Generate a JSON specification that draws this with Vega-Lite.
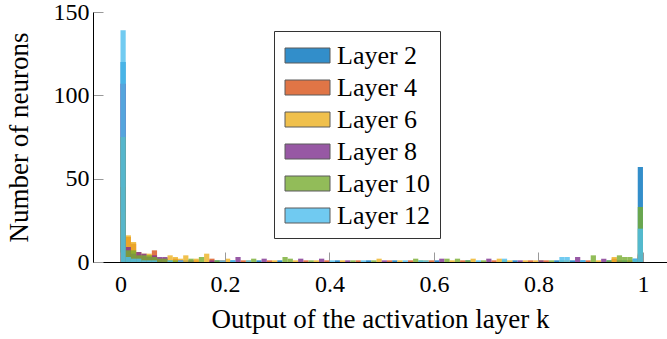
{
  "$schema": "https://vega.github.io/schema/vega-lite/v6.json",
  "width": 574,
  "height": 250,
  "autosize": {"type": "none"},
  "padding": {"left": 93, "top": 12, "right": 0, "bottom": 77},
  "background": "white",
  "config": {"view": {"stroke": null}, "font": "Liberation Serif"},
  "datasets": {
    "hist": [
      {"from":0.00,"to":0.01,"layer":"Layer 2","count":120},
      {"from":0.01,"to":0.02,"layer":"Layer 2","count":2},
      {"from":0.02,"to":0.03,"layer":"Layer 2","count":2},
      {"from":0.03,"to":0.04,"layer":"Layer 2","count":1},
      {"from":0.04,"to":0.05,"layer":"Layer 2","count":1},
      {"from":0.05,"to":0.06,"layer":"Layer 2","count":1},
      {"from":0.07,"to":0.08,"layer":"Layer 2","count":1},
      {"from":0.12,"to":0.13,"layer":"Layer 2","count":1},
      {"from":0.18,"to":0.19,"layer":"Layer 2","count":1},
      {"from":0.21,"to":0.22,"layer":"Layer 2","count":1},
      {"from":0.26,"to":0.27,"layer":"Layer 2","count":1},
      {"from":0.30,"to":0.31,"layer":"Layer 2","count":1},
      {"from":0.41,"to":0.42,"layer":"Layer 2","count":1},
      {"from":0.47,"to":0.48,"layer":"Layer 2","count":1},
      {"from":0.52,"to":0.53,"layer":"Layer 2","count":1},
      {"from":0.60,"to":0.61,"layer":"Layer 2","count":1},
      {"from":0.66,"to":0.67,"layer":"Layer 2","count":1},
      {"from":0.75,"to":0.76,"layer":"Layer 2","count":1},
      {"from":0.83,"to":0.84,"layer":"Layer 2","count":1},
      {"from":0.86,"to":0.87,"layer":"Layer 2","count":1},
      {"from":0.88,"to":0.89,"layer":"Layer 2","count":1},
      {"from":0.93,"to":0.94,"layer":"Layer 2","count":1},
      {"from":0.96,"to":0.97,"layer":"Layer 2","count":1},
      {"from":0.98,"to":0.99,"layer":"Layer 2","count":2},
      {"from":0.99,"to":1.00,"layer":"Layer 2","count":57},

      {"from":0.00,"to":0.01,"layer":"Layer 4","count":45},
      {"from":0.01,"to":0.02,"layer":"Layer 4","count":15},
      {"from":0.02,"to":0.03,"layer":"Layer 4","count":11},
      {"from":0.03,"to":0.04,"layer":"Layer 4","count":4},
      {"from":0.04,"to":0.05,"layer":"Layer 4","count":3},
      {"from":0.05,"to":0.06,"layer":"Layer 4","count":4},
      {"from":0.06,"to":0.07,"layer":"Layer 4","count":7},
      {"from":0.07,"to":0.08,"layer":"Layer 4","count":2},
      {"from":0.08,"to":0.09,"layer":"Layer 4","count":2},
      {"from":0.10,"to":0.11,"layer":"Layer 4","count":2},
      {"from":0.14,"to":0.15,"layer":"Layer 4","count":1},
      {"from":0.17,"to":0.18,"layer":"Layer 4","count":2},
      {"from":0.19,"to":0.20,"layer":"Layer 4","count":1},
      {"from":0.23,"to":0.24,"layer":"Layer 4","count":1},
      {"from":0.28,"to":0.29,"layer":"Layer 4","count":1},
      {"from":0.35,"to":0.36,"layer":"Layer 4","count":1},
      {"from":0.39,"to":0.40,"layer":"Layer 4","count":1},
      {"from":0.45,"to":0.46,"layer":"Layer 4","count":1},
      {"from":0.51,"to":0.52,"layer":"Layer 4","count":1},
      {"from":0.55,"to":0.56,"layer":"Layer 4","count":1},
      {"from":0.59,"to":0.60,"layer":"Layer 4","count":1},
      {"from":0.65,"to":0.66,"layer":"Layer 4","count":1},
      {"from":0.71,"to":0.72,"layer":"Layer 4","count":1},
      {"from":0.78,"to":0.79,"layer":"Layer 4","count":1},
      {"from":0.81,"to":0.82,"layer":"Layer 4","count":1},
      {"from":0.89,"to":0.90,"layer":"Layer 4","count":1},
      {"from":0.94,"to":0.95,"layer":"Layer 4","count":2},
      {"from":0.97,"to":0.98,"layer":"Layer 4","count":1},
      {"from":0.99,"to":1.00,"layer":"Layer 4","count":5},

      {"from":0.00,"to":0.01,"layer":"Layer 6","count":30},
      {"from":0.01,"to":0.02,"layer":"Layer 6","count":16},
      {"from":0.02,"to":0.03,"layer":"Layer 6","count":12},
      {"from":0.03,"to":0.04,"layer":"Layer 6","count":6},
      {"from":0.04,"to":0.05,"layer":"Layer 6","count":5},
      {"from":0.05,"to":0.06,"layer":"Layer 6","count":5},
      {"from":0.06,"to":0.07,"layer":"Layer 6","count":3},
      {"from":0.08,"to":0.09,"layer":"Layer 6","count":2},
      {"from":0.09,"to":0.10,"layer":"Layer 6","count":4},
      {"from":0.10,"to":0.11,"layer":"Layer 6","count":3},
      {"from":0.11,"to":0.12,"layer":"Layer 6","count":2},
      {"from":0.12,"to":0.13,"layer":"Layer 6","count":4},
      {"from":0.14,"to":0.15,"layer":"Layer 6","count":2},
      {"from":0.16,"to":0.17,"layer":"Layer 6","count":5},
      {"from":0.20,"to":0.21,"layer":"Layer 6","count":2},
      {"from":0.24,"to":0.25,"layer":"Layer 6","count":1},
      {"from":0.29,"to":0.30,"layer":"Layer 6","count":1},
      {"from":0.33,"to":0.34,"layer":"Layer 6","count":1},
      {"from":0.37,"to":0.38,"layer":"Layer 6","count":1},
      {"from":0.42,"to":0.43,"layer":"Layer 6","count":1},
      {"from":0.49,"to":0.50,"layer":"Layer 6","count":2},
      {"from":0.53,"to":0.54,"layer":"Layer 6","count":1},
      {"from":0.58,"to":0.59,"layer":"Layer 6","count":1},
      {"from":0.63,"to":0.64,"layer":"Layer 6","count":1},
      {"from":0.67,"to":0.68,"layer":"Layer 6","count":2},
      {"from":0.72,"to":0.73,"layer":"Layer 6","count":2},
      {"from":0.74,"to":0.75,"layer":"Layer 6","count":1},
      {"from":0.77,"to":0.78,"layer":"Layer 6","count":1},
      {"from":0.79,"to":0.80,"layer":"Layer 6","count":1},
      {"from":0.80,"to":0.81,"layer":"Layer 6","count":1},
      {"from":0.85,"to":0.86,"layer":"Layer 6","count":1},
      {"from":0.91,"to":0.92,"layer":"Layer 6","count":1},
      {"from":0.94,"to":0.95,"layer":"Layer 6","count":3},
      {"from":0.99,"to":1.00,"layer":"Layer 6","count":3},

      {"from":0.00,"to":0.01,"layer":"Layer 8","count":107},
      {"from":0.01,"to":0.02,"layer":"Layer 8","count":9},
      {"from":0.02,"to":0.03,"layer":"Layer 8","count":5},
      {"from":0.03,"to":0.04,"layer":"Layer 8","count":6},
      {"from":0.04,"to":0.05,"layer":"Layer 8","count":5},
      {"from":0.05,"to":0.06,"layer":"Layer 8","count":3},
      {"from":0.06,"to":0.07,"layer":"Layer 8","count":4},
      {"from":0.07,"to":0.08,"layer":"Layer 8","count":3},
      {"from":0.08,"to":0.09,"layer":"Layer 8","count":3},
      {"from":0.11,"to":0.12,"layer":"Layer 8","count":1},
      {"from":0.13,"to":0.14,"layer":"Layer 8","count":1},
      {"from":0.17,"to":0.18,"layer":"Layer 8","count":1},
      {"from":0.22,"to":0.23,"layer":"Layer 8","count":3},
      {"from":0.27,"to":0.28,"layer":"Layer 8","count":2},
      {"from":0.34,"to":0.35,"layer":"Layer 8","count":2},
      {"from":0.38,"to":0.39,"layer":"Layer 8","count":2},
      {"from":0.43,"to":0.44,"layer":"Layer 8","count":1},
      {"from":0.50,"to":0.51,"layer":"Layer 8","count":1},
      {"from":0.61,"to":0.62,"layer":"Layer 8","count":2},
      {"from":0.70,"to":0.71,"layer":"Layer 8","count":2},
      {"from":0.76,"to":0.77,"layer":"Layer 8","count":1},
      {"from":0.80,"to":0.81,"layer":"Layer 8","count":1},
      {"from":0.87,"to":0.88,"layer":"Layer 8","count":3},
      {"from":0.92,"to":0.93,"layer":"Layer 8","count":2},
      {"from":0.95,"to":0.96,"layer":"Layer 8","count":1},
      {"from":0.99,"to":1.00,"layer":"Layer 8","count":4},

      {"from":0.00,"to":0.01,"layer":"Layer 10","count":75},
      {"from":0.01,"to":0.02,"layer":"Layer 10","count":7},
      {"from":0.02,"to":0.03,"layer":"Layer 10","count":7},
      {"from":0.03,"to":0.04,"layer":"Layer 10","count":4},
      {"from":0.04,"to":0.05,"layer":"Layer 10","count":4},
      {"from":0.05,"to":0.06,"layer":"Layer 10","count":4},
      {"from":0.06,"to":0.07,"layer":"Layer 10","count":3},
      {"from":0.07,"to":0.08,"layer":"Layer 10","count":2},
      {"from":0.08,"to":0.09,"layer":"Layer 10","count":2},
      {"from":0.09,"to":0.10,"layer":"Layer 10","count":1},
      {"from":0.10,"to":0.11,"layer":"Layer 10","count":1},
      {"from":0.13,"to":0.14,"layer":"Layer 10","count":2},
      {"from":0.15,"to":0.16,"layer":"Layer 10","count":3},
      {"from":0.18,"to":0.19,"layer":"Layer 10","count":1},
      {"from":0.25,"to":0.26,"layer":"Layer 10","count":2},
      {"from":0.31,"to":0.32,"layer":"Layer 10","count":3},
      {"from":0.32,"to":0.33,"layer":"Layer 10","count":2},
      {"from":0.36,"to":0.37,"layer":"Layer 10","count":1},
      {"from":0.44,"to":0.45,"layer":"Layer 10","count":1},
      {"from":0.48,"to":0.49,"layer":"Layer 10","count":1},
      {"from":0.56,"to":0.57,"layer":"Layer 10","count":2},
      {"from":0.57,"to":0.58,"layer":"Layer 10","count":1},
      {"from":0.62,"to":0.63,"layer":"Layer 10","count":2},
      {"from":0.64,"to":0.65,"layer":"Layer 10","count":2},
      {"from":0.66,"to":0.67,"layer":"Layer 10","count":1},
      {"from":0.69,"to":0.70,"layer":"Layer 10","count":1},
      {"from":0.73,"to":0.74,"layer":"Layer 10","count":1},
      {"from":0.82,"to":0.83,"layer":"Layer 10","count":1},
      {"from":0.84,"to":0.85,"layer":"Layer 10","count":1},
      {"from":0.90,"to":0.91,"layer":"Layer 10","count":4},
      {"from":0.93,"to":0.94,"layer":"Layer 10","count":1},
      {"from":0.95,"to":0.96,"layer":"Layer 10","count":4},
      {"from":0.96,"to":0.97,"layer":"Layer 10","count":3},
      {"from":0.97,"to":0.98,"layer":"Layer 10","count":3},
      {"from":0.98,"to":0.99,"layer":"Layer 10","count":1},
      {"from":0.99,"to":1.00,"layer":"Layer 10","count":33},

      {"from":0.00,"to":0.01,"layer":"Layer 12","count":139},
      {"from":0.01,"to":0.02,"layer":"Layer 12","count":3},
      {"from":0.02,"to":0.03,"layer":"Layer 12","count":2},
      {"from":0.03,"to":0.04,"layer":"Layer 12","count":2},
      {"from":0.04,"to":0.05,"layer":"Layer 12","count":1},
      {"from":0.05,"to":0.06,"layer":"Layer 12","count":1},
      {"from":0.06,"to":0.07,"layer":"Layer 12","count":1},
      {"from":0.09,"to":0.10,"layer":"Layer 12","count":1},
      {"from":0.11,"to":0.12,"layer":"Layer 12","count":1},
      {"from":0.19,"to":0.20,"layer":"Layer 12","count":1},
      {"from":0.21,"to":0.22,"layer":"Layer 12","count":1},
      {"from":0.24,"to":0.25,"layer":"Layer 12","count":1},
      {"from":0.40,"to":0.41,"layer":"Layer 12","count":1},
      {"from":0.46,"to":0.47,"layer":"Layer 12","count":1},
      {"from":0.54,"to":0.55,"layer":"Layer 12","count":1},
      {"from":0.57,"to":0.58,"layer":"Layer 12","count":1},
      {"from":0.58,"to":0.59,"layer":"Layer 12","count":1},
      {"from":0.68,"to":0.69,"layer":"Layer 12","count":1},
      {"from":0.73,"to":0.74,"layer":"Layer 12","count":2},
      {"from":0.84,"to":0.85,"layer":"Layer 12","count":3},
      {"from":0.85,"to":0.86,"layer":"Layer 12","count":3},
      {"from":0.88,"to":0.89,"layer":"Layer 12","count":1},
      {"from":0.98,"to":0.99,"layer":"Layer 12","count":2},
      {"from":0.99,"to":1.00,"layer":"Layer 12","count":20}
    ]
  },
  "data": {"name": "hist"},
  "mark": {"type": "bar", "opacity": 0.8, "clip": true, "orient": "vertical"},
  "encoding": {
    "x": {
      "field": "from",
      "type": "quantitative",
      "scale": {"domain": [-0.0526, 1.046], "nice": false, "zero": false, "padding": 0},
      "axis": {
        "title": "Output of the activation layer k",
        "values": [0, 0.2, 0.4, 0.6, 0.8, 1],
        "format": "~g",
        "grid": false,
        "domainColor": "black",
        "domainWidth": 1,
        "tickColor": "#999999",
        "tickSize": -10,
        "tickWidth": 1,
        "labelFont": "Liberation Serif",
        "labelFontSize": 24,
        "labelColor": "black",
        "labelPadding": 20,
        "labelFlush": false,
        "titleFont": "Liberation Serif",
        "titleFontSize": 27,
        "titleFontWeight": "normal",
        "titleColor": "black",
        "titlePadding": 10,
        "zindex": 1
      }
    },
    "x2": {"field": "to"},
    "y": {
      "field": "count",
      "type": "quantitative",
      "stack": null,
      "scale": {"domain": [0, 150], "nice": false},
      "axis": {
        "title": "Number of neurons",
        "values": [0, 50, 100, 150],
        "grid": false,
        "domainColor": "black",
        "domainWidth": 1,
        "tickColor": "#999999",
        "tickSize": -10,
        "tickWidth": 1,
        "labelFont": "Liberation Serif",
        "labelFontSize": 24,
        "labelColor": "black",
        "labelPadding": 14,
        "labelFlush": false,
        "titleFont": "Liberation Serif",
        "titleFontSize": 27,
        "titleFontWeight": "normal",
        "titleColor": "black",
        "titlePadding": 20,
        "zindex": 1
      }
    },
    "y2": {"datum": 0},
    "color": {
      "field": "layer",
      "type": "nominal",
      "sort": ["Layer 2", "Layer 4", "Layer 6", "Layer 8", "Layer 10", "Layer 12"],
      "scale": {
        "domain": ["Layer 2", "Layer 4", "Layer 6", "Layer 8", "Layer 10", "Layer 12"],
        "range": ["#0072bd", "#d95319", "#edb120", "#7e2f8e", "#77ac30", "#4dbeee"]
      },
      "legend": {
        "title": null,
        "orient": "none",
        "legendX": 181,
        "legendY": 19,
        "direction": "vertical",
        "fillColor": "white",
        "strokeColor": "#333333",
        "padding": 9,
        "symbolType": "M-1.5,-0.5H1.5V0.5H-1.5Z",
        "symbolSize": 900,
        "symbolOffset": 9,
        "symbolOpacity": 0.8,
        "symbolStrokeColor": "#333333",
        "symbolStrokeWidth": 1,
        "labelFont": "Liberation Serif",
        "labelFontSize": 26,
        "labelColor": "black",
        "labelOffset": 14,
        "rowPadding": 3
      }
    }
  }
}
